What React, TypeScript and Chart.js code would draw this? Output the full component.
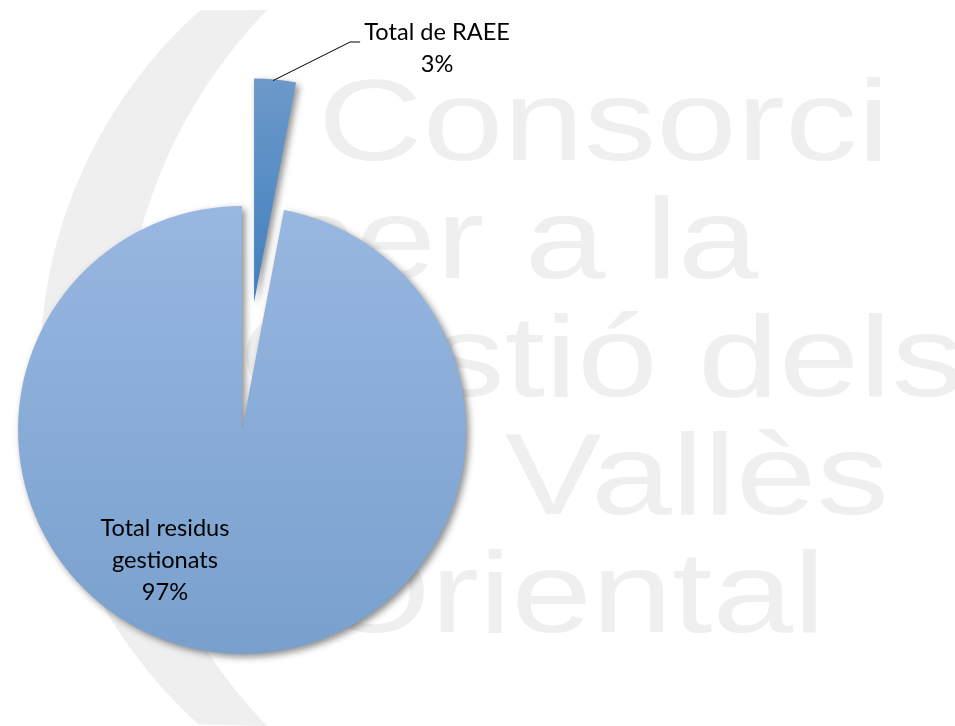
import React, { useEffect, useRef } from 'react';
import { Chart, registerables } from 'chart.js';

Chart.register(...registerables);

// ---- data ----
const categories = ['Total de RAEE', 'Total residus gestionats'];
const labelLines = [['Total de RAEE'], ['Total residus', 'gestionats']];
const shares = [3, 97];

// ---- background watermark (logo of the consortium) ----
const watermarkLines = ['Consorci', 'per a la', 'Gestió dels', 'Vallès', 'Oriental'];
const watermarkX = [318, 275, 239, 505, 318];
const watermarkBaseline = [160, 278, 396, 514, 632];

// ---- geometry / style ----
const W = 955;
const H = 726;
const RADIUS = 224;
const EXPLODE = 128;
const LABEL_FONT = 'Lato, "Open Sans", sans-serif';

const watermarkPlugin = {
  id: 'watermark',
  beforeDraw(chart: any) {
    const ctx = chart.ctx as CanvasRenderingContext2D;
    ctx.save();
    ctx.fillStyle = '#ffffff';
    ctx.fillRect(0, 0, chart.width, chart.height);
    // swoosh: crescent between two circle arcs
    const L = { x: 520, y: 368, r: 480 };
    const Rr = { x: 636, y: 368, r: 514 };
    const a1 = Math.atan2(10 - L.y, 200 - L.x);
    const a2 = Math.atan2(726 - L.y, 197 - L.x);
    const b1 = Math.atan2(726 - Rr.y, 267 - Rr.x);
    const b2 = Math.atan2(10 - Rr.y, 267 - Rr.x);
    ctx.fillStyle = '#efefef';
    ctx.beginPath();
    ctx.arc(L.x, L.y, L.r, a1 < 0 ? a1 + Math.PI * 2 : a1, a2, true);
    ctx.arc(Rr.x, Rr.y, Rr.r, b1, b2 < 0 ? b2 + Math.PI * 2 : b2, false);
    ctx.closePath();
    ctx.fill();
    // text
    ctx.fillStyle = '#efefef';
    ctx.font = '115px "Liberation Sans", Arial, sans-serif';
    ctx.textAlign = 'left';
    ctx.textBaseline = 'alphabetic';
    watermarkLines.forEach((t, i) => {
      ctx.save();
      ctx.translate(watermarkX[i], watermarkBaseline[i]);
      ctx.scale(1.26, 1);
      ctx.fillText(t, 0, 0);
      ctx.restore();
    });
    ctx.restore();
  },
};

const explodePlugin = {
  id: 'explode',
  afterDatasetsUpdate(chart: any) {
    const meta = chart.getDatasetMeta(0);
    const total = shares.reduce((a, b) => a + b, 0);
    meta.data.forEach((arc: any, i: number) => {
      if (shares[i] / total < 0.1) {
        const half = (arc.startAngle + arc.endAngle) / 2;
        arc.x += Math.cos(half) * EXPLODE;
        arc.y += Math.sin(half) * EXPLODE;
      }
    });
  },
};

const shadowPlugin = {
  id: 'pieShadow',
  beforeDatasetsDraw(chart: any) {
    const ctx = chart.ctx as CanvasRenderingContext2D;
    ctx.save();
    ctx.shadowColor = 'rgba(0,0,0,0.45)';
    ctx.shadowBlur = 7;
    ctx.shadowOffsetX = 3;
    ctx.shadowOffsetY = 3;
  },
  afterDatasetsDraw(chart: any) {
    chart.ctx.restore();
  },
};

const labelPlugin = {
  id: 'pieLabels',
  afterDraw(chart: any) {
    const ctx = chart.ctx as CanvasRenderingContext2D;
    const meta = chart.getDatasetMeta(0);
    const total = shares.reduce((a, b) => a + b, 0);
    ctx.save();
    ctx.font = `100px ${LABEL_FONT}`;
    const size = Math.round((100 * 146) / ctx.measureText('Total de RAEE').width * 10) / 10;
    ctx.font = `${size}px ${LABEL_FONT}`;
    ctx.fillStyle = '#000000';
    ctx.textAlign = 'center';
    ctx.textBaseline = 'alphabetic';
    const lh = 32;
    meta.data.forEach((arc: any, i: number) => {
      const pct = Math.round((shares[i] / total) * 100) + '%';
      const lines = [...labelLines[i], pct];
      const half = (arc.startAngle + arc.endAngle) / 2;
      const R = arc.outerRadius;
      if (shares[i] / total < 0.1) {
        const ax = arc.x + Math.cos(half) * R - 2;
        const ay = arc.y + Math.sin(half) * R + 1;
        const ex = ax + 77;
        const ey = 42;
        const fx = ex + 10;
        ctx.strokeStyle = '#000000';
        ctx.lineWidth = 1;
        ctx.beginPath();
        ctx.moveTo(ax, ay);
        ctx.lineTo(ex, ey);
        ctx.lineTo(fx, ey);
        ctx.stroke();
        lines.forEach((t, k) => ctx.fillText(t, fx + 77, ey - 2 + k * lh));
      } else {
        const cx = arc.x - 0.344 * R;
        const y0 = arc.y + 0.475 * R;
        lines.forEach((t, k) => ctx.fillText(t, cx, y0 + k * lh));
      }
    });
    ctx.restore();
  },
};

function gradientFor(c: any) {
  const fallback = c.dataIndex === 0 ? '#4f81bd' : '#8aabd6';
  if (c.type !== 'data') return fallback;
  const chart = c.chart;
  const ca = chart.chartArea;
  if (!ca) return fallback;
  const cy = (ca.top + ca.bottom) / 2;
  const total = shares.reduce((a, b) => a + b, 0);
  const small = shares[c.dataIndex] / total < 0.1;
  const top = small ? cy - EXPLODE - RADIUS : cy - RADIUS;
  const bottom = small ? cy - EXPLODE * 0.9 : cy + RADIUS;
  const g = chart.ctx.createLinearGradient(0, top, 0, bottom);
  if (small) {
    g.addColorStop(0, '#6c99ca');
    g.addColorStop(1, '#3f7ebe');
  } else {
    g.addColorStop(0, '#98b7e1');
    g.addColorStop(1, '#79a0cd');
  }
  return g;
}

export default function App() {
  const ref = useRef<HTMLCanvasElement | null>(null);
  useEffect(() => {
    if (!ref.current) return;
    const chart = new Chart(ref.current, {
      type: 'pie',
      data: {
        labels: categories,
        datasets: [
          {
            data: shares,
            backgroundColor: gradientFor as any,
            borderWidth: 0,
            radius: RADIUS,
            clip: false as any,
          } as any,
        ],
      },
      options: {
        responsive: false,
        animation: false,
        events: [],
        rotation: 0,
        layout: { padding: { left: 0, right: 471, top: 134, bottom: 0 } },
        plugins: {
          legend: { display: false },
          tooltip: { enabled: false },
        },
      },
      plugins: [watermarkPlugin, explodePlugin, shadowPlugin, labelPlugin],
    });
    return () => chart.destroy();
  }, []);
  return (
    <div style={{ position: 'absolute', left: 0, top: 0, width: W, height: H, background: '#fff' }}>
      <canvas ref={ref} width={W} height={H} style={{ display: 'block', width: W, height: H }} />
    </div>
  );
}
